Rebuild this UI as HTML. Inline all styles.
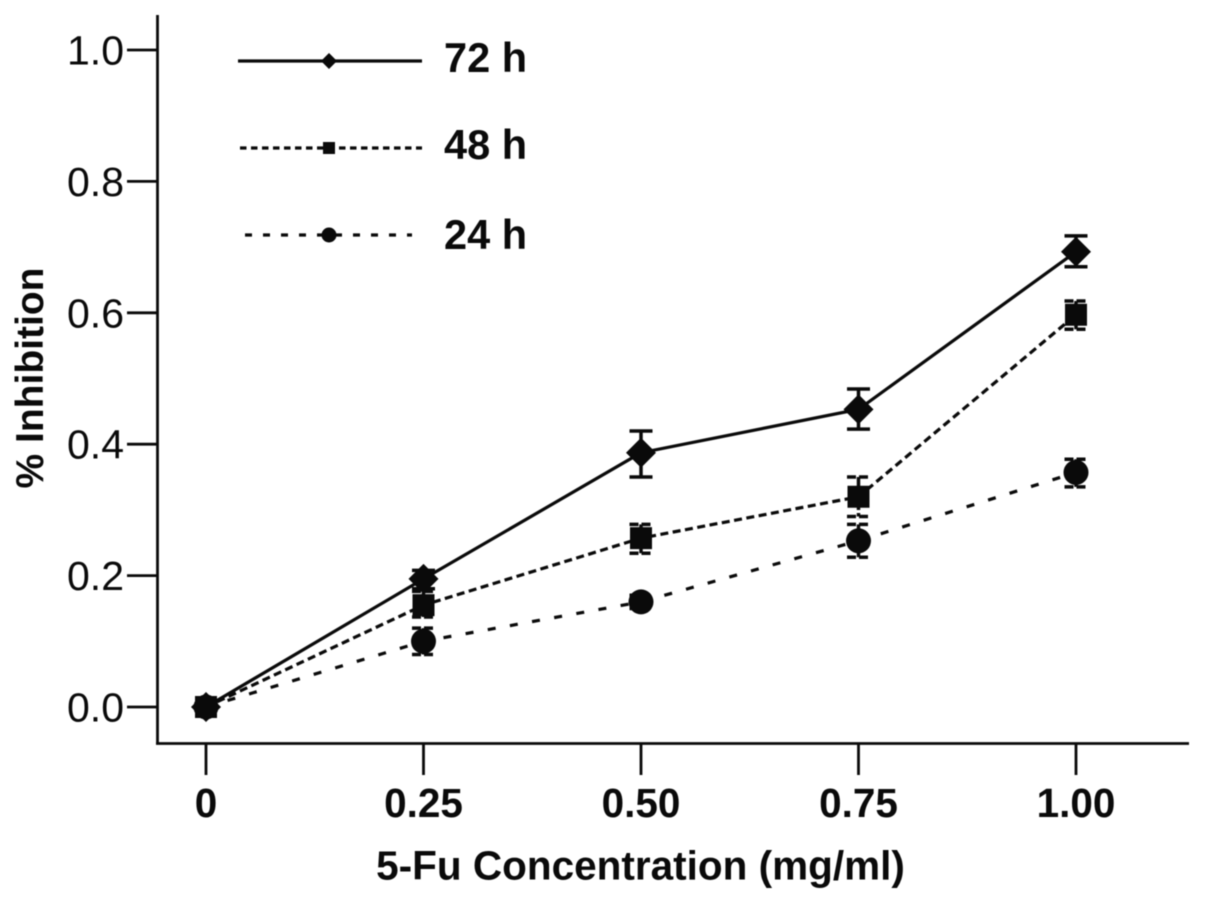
<!DOCTYPE html>
<html>
<head>
<meta charset="utf-8">
<title>5-Fu inhibition chart</title>
<style>
html,body{margin:0;padding:0;background:#fff;}
svg{display:block;filter:blur(0.4px);}
text{font-family:"Liberation Sans",Arial,sans-serif;fill:#0a0a0a;}
</style>
</head>
<body>
<svg id="chart" xmlns="http://www.w3.org/2000/svg" width="1205" height="900" viewBox="0 0 1205 900">
  <rect width="1205" height="900" fill="#fff"/>
  <text transform="translate(43,378) rotate(-90)" text-anchor="middle" font-size="39" font-weight="bold">% Inhibition</text>
  <text x="640.5" y="879.5" text-anchor="middle" font-size="40.5" font-weight="bold">5-Fu Concentration (mg/ml)</text>
</svg>
<script>
const xValues = [0, 0.25, 0.5, 0.75, 1];
const xTickLabels = ['0', '0.25', '0.50', '0.75', '1.00'];
const yTicks = [0, 0.2, 0.4, 0.6, 0.8, 1];
const yTickLabels = ['0.0', '0.2', '0.4', '0.6', '0.8', '1.0'];

const values72h = [0, 0.195, 0.387, 0.453, 0.693];
const low72h = [0, 0.18, 0.35, 0.423, 0.67];
const high72h = [0, 0.208, 0.42, 0.484, 0.717];

const values48h = [0, 0.155, 0.257, 0.32, 0.597];
const low48h = [0, 0.137, 0.234, 0.29, 0.575];
const high48h = [0, 0.176, 0.278, 0.35, 0.618];

const values24h = [0, 0.1, 0.16, 0.253, 0.357];
const low24h = [0, 0.08, 0.15, 0.228, 0.335];
const high24h = [0, 0.12, 0.17, 0.278, 0.377];

const labels = ['72 h', '48 h', '24 h'];

const NS = 'http://www.w3.org/2000/svg';
const svg = document.getElementById('chart');
const INK = '#0a0a0a';

function xScale(v) { return 206 + v * 870; }
function yScale(v) { return 707 - v * 657; }

function make(tag, attrs, parent) {
  const el = document.createElementNS(NS, tag);
  for (const k in attrs) el.setAttribute(k, attrs[k]);
  (parent || svg).appendChild(el);
  return el;
}

function markerShape(kind, cx, cy, r, parent) {
  if (kind === 'diamond') {
    return make('polygon', {
      points: (cx - r) + ',' + cy + ' ' + cx + ',' + (cy - r) + ' ' + (cx + r) + ',' + cy + ' ' + cx + ',' + (cy + r),
      fill: INK
    }, parent);
  }
  if (kind === 'square') {
    return make('rect', { x: cx - r, y: cy - r, width: 2 * r, height: 2 * r, fill: INK }, parent);
  }
  return make('circle', { cx: cx, cy: cy, r: r, fill: INK }, parent);
}

/* axes */
const axes = make('g', { stroke: INK, 'stroke-width': 2.8, fill: 'none' });


const yAxisLine = make('line', { x1: 157.5, y1: 15, x2: 157.5, y2: 744.5 }, axes);


const xAxisLine = make('line', { x1: 156, y1: 743.5, x2: 1189, y2: 743.5 }, axes);



yTicks.forEach(function (t, i) {
  const tick = make('line', { x1: 127, y1: yScale(t), x2: 157, y2: yScale(t) }, axes);
  
  
  const label = make('text', { x: 124, y: yScale(t) + 14.5, 'text-anchor': 'end', 'font-size': 41 });
  
  
  label.textContent = yTickLabels[i];
});

xValues.forEach(function (v, i) {
  const tick = make('line', { x1: xScale(v), y1: 744, x2: xScale(v), y2: 775 }, axes);
  
  
  const label = make('text', { x: xScale(v), y: 817, 'text-anchor': 'middle', 'font-size': 40.5, 'font-weight': 'bold' });
  
  
  label.textContent = xTickLabels[i];
});

function drawSeries(name, vals, lows, highs, kind, r, dash, dashCaps) {
  const g = make('g', {});
  
  

  const pts = xValues.map(function (v, i) { return xScale(v) + ',' + yScale(vals[i]); }).join(' ');
  const line = make('polyline', {
    points: pts, fill: 'none', stroke: INK, 'stroke-width': 3.2, 'stroke-dasharray': dash
  }, g);
  
  

  xValues.forEach(function (v, i) {
    if (i === 0) return;
    const cx = xScale(v);
    const top = yScale(highs[i]);
    const bottom = yScale(lows[i]);
    const err = make('path', {
      d: 'M' + (cx - 11.5) + ' ' + top + 'H' + (cx + 11.5) +
         'M' + cx + ' ' + top + 'V' + bottom +
         'M' + (cx - 11.5) + ' ' + bottom + 'H' + (cx + 11.5),
      fill: 'none', stroke: INK, 'stroke-width': 3.5, 'stroke-dasharray': dashCaps
    }, g);
    
    
  });

  xValues.forEach(function (v, i) {
    const m = markerShape(kind, xScale(v), yScale(vals[i]), r, g);
    
    
  });
}

drawSeries('24h', values24h, low24h, high24h, 'circle', 12.5, '8 14.5', '9 3');
drawSeries('48h', values48h, low48h, high48h, 'square', 11, '8 4.5', '9 3');
drawSeries('72h', values72h, low72h, high72h, 'diamond', 15, 'none', 'none');

/* legend */
const legendG = make('g', {});



function legendEntry(label, y, baseline, x1, x2, dash, kind, r) {
  const g = make('g', {}, legendG);
  
  
  make('line', { x1: x1, y1: y, x2: x2, y2: y, stroke: INK, 'stroke-width': 3.2, 'stroke-dasharray': dash }, g);
  markerShape(kind, 329, y, r, g);
  const t = make('text', { x: 444, y: baseline, 'font-size': 41.5, 'font-weight': 'bold' }, g);
  t.textContent = label;
}
legendEntry(labels[0], 61, 72, 238, 422, 'none', 'diamond', 8);
legendEntry(labels[1], 148, 159, 240, 422, '6.5 4.5', 'square', 6);
legendEntry(labels[2], 235, 249, 245, 412, '7 11', 'circle', 7.5);
</script>
</body>
</html>
